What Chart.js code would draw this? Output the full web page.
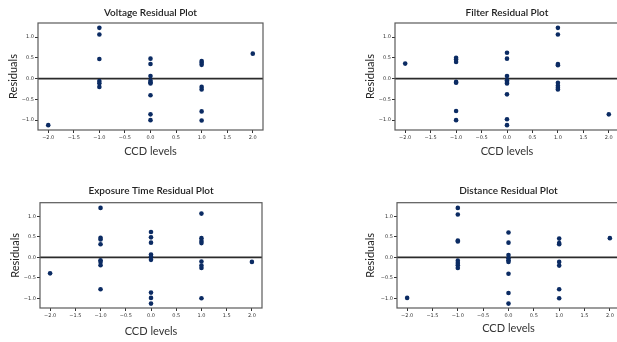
<!DOCTYPE html>
<html>
<head>
<meta charset="utf-8">
<script src="https://cdn.jsdelivr.net/npm/chart.js@4"></script>
<style>
  html, body { margin: 0; padding: 0; background: #fff; overflow: hidden; }
  body { width: 617px; height: 342px; position: relative; }
  .panel { position: absolute; }
</style>
</head>
<body>
<div class="panel" style="left:0px;top:0px;width:300px;height:165px"><canvas id="voltage"></canvas></div>
<div class="panel" style="left:357px;top:0px;width:300px;height:165px"><canvas id="filter"></canvas></div>
<div class="panel" style="left:0px;top:178px;width:300px;height:164px"><canvas id="exposure"></canvas></div>
<div class="panel" style="left:359px;top:178px;width:300px;height:164px"><canvas id="distance"></canvas></div>
<script>
// Tick labels
const xTicks = [-2.0, -1.5, -1.0, -0.5, 0.0, 0.5, 1.0, 1.5, 2.0];
const yTicks = [-1.0, -0.5, 0.0, 0.5, 1.0];

// Voltage residuals (CCD level, residual)
const voltageLevels    = [-2, -1, -1, -1, -1, -1, -1, 0, 0, 0, 0, 0, 0, 0, 0, 0, 1, 1, 1, 1, 1, 1, 1, 2];
const voltageResiduals = [-1.12, 1.22, 1.06, 0.47, -0.06, -0.11, -0.20, 0.48, 0.35, 0.06, -0.05, -0.09, -0.12, -0.40, -0.86, -1.00, 0.42, 0.38, 0.33, -0.20, -0.26, -0.79, -1.01, 0.60];

// Filter residuals
const filterLevels    = [-2, -1, -1, -1, -1, -1, -1, -1, 0, 0, 0, 0, 0, 0, 0, 0, 0, 1, 1, 1, 1, 1, 1, 1, 1, 2];
const filterResiduals = [0.36, 0.50, 0.46, 0.40, -0.08, -0.10, -0.78, -1.00, 0.62, 0.48, 0.06, -0.04, -0.08, -0.12, -0.38, -0.98, -1.12, 1.22, 1.06, 0.35, 0.32, -0.10, -0.17, -0.22, -0.26, -0.86];

// Exposure time residuals
const exposureLevels    = [-2, -1, -1, -1, -1, -1, -1, -1, -1, 0, 0, 0, 0, 0, 0, 0, 0, 0, 1, 1, 1, 1, 1, 1, 1, 1, 2];
const exposureResiduals = [-0.39, 1.21, 0.48, 0.44, 0.32, -0.07, -0.11, -0.19, -0.78, 0.62, 0.49, 0.36, 0.07, 0.02, -0.06, -0.86, -0.99, -1.13, 1.07, 0.47, 0.40, 0.35, -0.10, -0.20, -0.26, -1.00, -0.11];

// Distance residuals
const distanceLevels    = [-2, -1, -1, -1, -1, -1, -1, -1, -1, 0, 0, 0, 0, 0, 0, 0, 0, 0, 1, 1, 1, 1, 1, 1, 1, 2];
const distanceResiduals = [-0.99, 1.21, 1.05, 0.41, 0.39, -0.08, -0.14, -0.19, -0.26, 0.61, 0.36, 0.06, -0.02, -0.07, -0.11, -0.40, -0.87, -1.13, 0.46, 0.35, 0.32, -0.11, -0.20, -0.78, -1.00, 0.47];

const dotColor = '#0b2b63';

const fmt = v => v.toFixed(1).replace('-', '\u2212');

// zero line, frame box and title centred over the plot area
const framePlugin = {
  id: 'frame',
  beforeDatasetsDraw(chart) {
    const { ctx, chartArea: a, scales: { y } } = chart;
    const y0 = y.getPixelForValue(0);
    ctx.save();
    ctx.strokeStyle = '#2b2b2b';
    ctx.lineWidth = 1.8;
    ctx.beginPath();
    ctx.moveTo(a.left, y0);
    ctx.lineTo(a.right, y0);
    ctx.stroke();
    ctx.restore();
  },
  afterDraw(chart, args, opts) {
    const { ctx, chartArea: a } = chart;
    ctx.save();
    ctx.strokeStyle = '#5a5a5a';
    ctx.lineWidth = 1.2;
    ctx.strokeRect(a.left, a.top, a.right - a.left, a.bottom - a.top);
    ctx.font = '600 10px Lato';
    ctx.fillStyle = '#222';
    ctx.textAlign = 'center';
    ctx.textBaseline = 'middle';
    ctx.fillText(opts.text, (a.left + a.right) / 2, opts.y);
    ctx.restore();
  }
};

const makeChart = (id, title, levels, residuals, box) => {
  const data = levels.map((x, i) => ({ x, y: residuals[i] }));
  return new Chart(document.getElementById(id), {
    type: 'scatter',
    data: {
      datasets: [{
        data,
        backgroundColor: dotColor,
        borderWidth: 0,
        pointRadius: 2.3
      }]
    },
    plugins: [framePlugin],
    options: {
      responsive: true,
      maintainAspectRatio: false,
      animation: false,
      layout: { padding: { top: box.top, right: box.right, left: 0, bottom: 0 } },
      plugins: {
        legend: { display: false },
        tooltip: { enabled: false },
        frame: { text: title, y: box.titleY }
      },
      scales: {
        x: {
          type: 'linear',
          min: -2.2,
          max: 2.2,
          afterBuildTicks: s => { s.ticks = xTicks.map(value => ({ value })); },
          afterFit: s => { s.height = box.xHeight; },
          border: { display: false },
          grid: { drawOnChartArea: false, drawTicks: true, tickLength: 3, color: '#333' },
          ticks: { font: { size: 5, family: 'DejaVu Sans' }, color: '#333', padding: 2, maxRotation: 0, callback: v => fmt(v) },
          title: { display: true, text: 'CCD levels', font: { size: 11, family: 'Lato' }, color: '#333', padding: { top: 0, bottom: box.xTitlePad } }
        },
        y: {
          min: -1.237,
          max: 1.337,
          afterBuildTicks: s => { s.ticks = yTicks.map(value => ({ value })); },
          afterFit: s => { s.width = box.yWidth; },
          border: { display: false },
          grid: { drawOnChartArea: false, drawTicks: true, tickLength: 3, color: '#333' },
          ticks: { font: { size: 5, family: 'DejaVu Sans' }, color: '#333', padding: 1, callback: v => fmt(v) },
          title: { display: true, text: 'Residuals', font: { size: 11, family: 'Lato' }, color: '#222', padding: { top: box.yTitlePad, bottom: 0 } }
        }
      }
    }
  });
};

makeChart('voltage', 'Voltage Residual Plot', voltageLevels, voltageResiduals,
  { top: 23, right: 37, titleY: 13, xHeight: 35, xTitlePad: 7.4, yWidth: 38, yTitlePad: 6.4 });
makeChart('filter', 'Filter Residual Plot', filterLevels, filterResiduals,
  { top: 23, right: 38, titleY: 13, xHeight: 35, xTitlePad: 7.4, yWidth: 38, yTitlePad: 6.4 });
makeChart('exposure', 'Exposure Time Residual Plot', exposureLevels, exposureResiduals,
  { top: 24.7, right: 38, titleY: 12.7, xHeight: 34, xTitlePad: 3.7, yWidth: 40, yTitlePad: 8.4 });
makeChart('distance', 'Distance Residual Plot', distanceLevels, distanceResiduals,
  { top: 24.7, right: 39, titleY: 12.7, xHeight: 34, xTitlePad: 7.4, yWidth: 38, yTitlePad: 4.4 });
</script>
</body>
</html>
